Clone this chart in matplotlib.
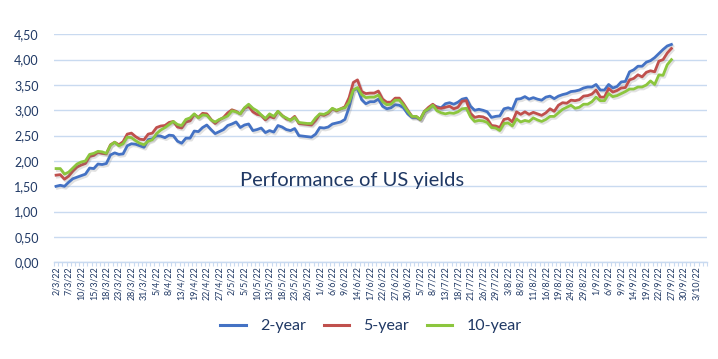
import matplotlib
matplotlib.use("Agg")
import matplotlib.pyplot as plt
import matplotlib.patheffects as pe
from matplotlib.ticker import FixedLocator, FuncFormatter

# ---------------- data ----------------
tick_labels = [
    "2/3/22", "7/3/22", "10/3/22", "15/3/22", "18/3/22", "23/3/22", "28/3/22", "31/3/22",
    "5/4/22", "8/4/22", "13/4/22", "19/4/22", "22/4/22", "27/4/22", "2/5/22", "5/5/22",
    "10/5/22", "13/5/22", "18/5/22", "23/5/22", "26/5/22", "1/6/22", "6/6/22", "9/6/22",
    "14/6/22", "17/6/22", "22/6/22", "27/6/22", "30/6/22", "5/7/22", "8/7/22", "13/7/22",
    "18/7/22", "21/7/22", "26/7/22", "29/7/22", "3/8/22", "8/8/22", "11/8/22", "16/8/22",
    "19/8/22", "24/8/22", "29/8/22", "1/9/22", "6/9/22", "9/9/22", "14/9/22", "19/9/22",
    "22/9/22", "27/9/22", "30/9/22", "3/10/22",
]
n_categories = 156          # rows on the category axis (incl. empty future rows)
label_every = 3

yield_2y = [
    1.50, 1.52, 1.50, 1.58, 1.65, 1.68, 1.71, 1.74, 1.86, 1.85, 1.94, 1.93, 1.95, 2.12, 2.16, 2.13,
    2.14, 2.30, 2.34, 2.33, 2.30, 2.27, 2.42, 2.44, 2.50, 2.49, 2.46, 2.51, 2.50, 2.39, 2.35, 2.45,
    2.45, 2.59, 2.58, 2.66, 2.71, 2.62, 2.54, 2.58, 2.62, 2.70, 2.73, 2.77, 2.66, 2.71, 2.73, 2.60,
    2.62, 2.65, 2.56, 2.60, 2.57, 2.70, 2.67, 2.62, 2.60, 2.64, 2.50, 2.49, 2.48, 2.47, 2.53, 2.66,
    2.65, 2.67, 2.73, 2.75, 2.77, 2.82, 3.06, 3.40, 3.43, 3.21, 3.13, 3.17, 3.17, 3.22, 3.08, 3.03,
    3.05, 3.11, 3.10, 3.05, 2.93, 2.86, 2.86, 2.82, 2.97, 3.02, 3.10, 3.07, 3.05, 3.13, 3.15, 3.12,
    3.16, 3.22, 3.24, 3.08, 3.00, 3.02, 3.00, 2.97, 2.86, 2.88, 2.89, 3.03, 3.05, 3.02, 3.22, 3.23,
    3.27, 3.22, 3.25, 3.22, 3.20, 3.26, 3.28, 3.23, 3.28, 3.31, 3.33, 3.37, 3.38, 3.40, 3.44, 3.46,
    3.46, 3.51, 3.40, 3.40, 3.51, 3.44, 3.47, 3.56, 3.57, 3.76, 3.80, 3.87, 3.87, 3.95, 3.98, 4.04,
    4.12, 4.20, 4.27, 4.30,
]
yield_5y = [
    1.72, 1.73, 1.64, 1.70, 1.80, 1.88, 1.92, 1.95, 2.09, 2.11, 2.17, 2.15, 2.14, 2.32, 2.37, 2.32,
    2.38, 2.53, 2.55, 2.48, 2.43, 2.42, 2.53, 2.55, 2.66, 2.69, 2.70, 2.76, 2.78, 2.67, 2.65, 2.77,
    2.79, 2.92, 2.86, 2.94, 2.93, 2.82, 2.74, 2.81, 2.86, 2.95, 3.01, 2.98, 2.93, 3.04, 3.08, 2.97,
    2.92, 2.90, 2.81, 2.88, 2.85, 2.98, 2.90, 2.83, 2.81, 2.88, 2.74, 2.73, 2.72, 2.71, 2.80, 2.92,
    2.90, 2.94, 3.03, 2.99, 3.03, 3.07, 3.25, 3.55, 3.60, 3.37, 3.33, 3.34, 3.34, 3.38, 3.22, 3.16,
    3.16, 3.24, 3.24, 3.13, 3.00, 2.88, 2.88, 2.82, 2.98, 3.06, 3.12, 3.05, 3.04, 3.06, 3.08, 3.03,
    3.06, 3.18, 3.19, 2.94, 2.86, 2.88, 2.87, 2.83, 2.70, 2.69, 2.66, 2.82, 2.84, 2.77, 2.97, 2.92,
    2.97, 2.92, 2.96, 2.93, 2.90, 2.95, 3.03, 2.98, 3.10, 3.15, 3.14, 3.20, 3.19, 3.21, 3.28, 3.29,
    3.32, 3.40, 3.26, 3.26, 3.43, 3.36, 3.39, 3.44, 3.45, 3.60, 3.63, 3.70, 3.66, 3.75, 3.78, 3.76,
    3.97, 4.00, 4.13, 4.22,
]
yield_10y = [
    1.85, 1.85, 1.74, 1.78, 1.86, 1.94, 1.98, 2.00, 2.13, 2.15, 2.19, 2.18, 2.15, 2.31, 2.37, 2.30,
    2.34, 2.47, 2.46, 2.40, 2.35, 2.32, 2.39, 2.42, 2.54, 2.61, 2.66, 2.72, 2.78, 2.72, 2.70, 2.82,
    2.85, 2.93, 2.85, 2.91, 2.90, 2.81, 2.77, 2.82, 2.85, 2.89, 2.99, 2.97, 2.93, 3.05, 3.12, 3.04,
    2.99, 2.91, 2.84, 2.93, 2.88, 2.98, 2.89, 2.85, 2.80, 2.86, 2.76, 2.75, 2.74, 2.74, 2.85, 2.93,
    2.92, 2.96, 3.04, 3.00, 3.03, 3.05, 3.16, 3.40, 3.45, 3.31, 3.25, 3.26, 3.26, 3.30, 3.17, 3.11,
    3.12, 3.20, 3.20, 3.10, 2.98, 2.88, 2.88, 2.82, 2.98, 3.03, 3.10, 2.99, 2.95, 2.93, 2.95, 2.94,
    2.97, 3.03, 3.04, 2.87, 2.78, 2.80, 2.79, 2.76, 2.66, 2.65, 2.60, 2.74, 2.75, 2.69, 2.83, 2.77,
    2.80, 2.78, 2.85, 2.81, 2.78, 2.82, 2.88, 2.88, 2.95, 3.02, 3.06, 3.10, 3.04, 3.06, 3.12, 3.12,
    3.17, 3.26, 3.19, 3.19, 3.33, 3.27, 3.29, 3.33, 3.37, 3.42, 3.42, 3.46, 3.46, 3.50, 3.58, 3.51,
    3.70, 3.69, 3.90, 4.00,
]
series_names = ["2-year", "5-year", "10-year"]
series_colors = ["#4472C4", "#C0504D", "#8CC63E"]

# ---------------- style ----------------
FONT = ["Lato", "DejaVu Sans"]
plt.rcParams["font.family"] = FONT
NAVY = "#1F3864"
GRID = "#C9DAF0"

fig = plt.figure(figsize=(7.18, 3.59), dpi=100)
ax = fig.add_axes([54 / 718, 1 - 262.3 / 359, 653 / 718, (262.3 - 34.3) / 359])

shadow = [pe.SimpleLineShadow(offset=(1.0, -1.3), shadow_color="#777777", alpha=0.22, linewidth=2.2),
          pe.Normal()]

for vals, name, col in zip([yield_2y, yield_5y, yield_10y], series_names, series_colors):
    xs = list(range(len(vals)))
    ax.plot(xs, vals, color=col, lw=2.0, label=name, path_effects=shadow,
            solid_joinstyle="round", zorder=3)

ax.set_xlim(-0.5, n_categories - 0.5)
ax.set_ylim(0, 4.5)
ax.set_yticks([i * 0.5 for i in range(10)])
ax.yaxis.set_major_formatter(FuncFormatter(lambda v, p: f"{v:.2f}".replace(".", ",")))
ax.grid(axis="y", color=GRID, lw=1.0, zorder=0)
ax.set_axisbelow(True)

tick_pos = [i * label_every for i in range(len(tick_labels))]
ax.set_xticks(tick_pos)
ax.set_xticklabels(tick_labels, rotation=90, fontsize=6.4, color=NAVY)
ax.xaxis.set_minor_locator(FixedLocator([i - 0.5 for i in range(n_categories + 1)]))
ax.tick_params(axis="x", which="major", length=0, pad=3)
ax.tick_params(axis="x", which="minor", length=3, color=GRID, width=0.8)
ax.tick_params(axis="y", length=0, labelsize=9, labelcolor=NAVY, pad=11)

for s in ["top", "right", "left"]:
    ax.spines[s].set_visible(False)
ax.spines["bottom"].set_color(GRID)
ax.spines["bottom"].set_linewidth(1.0)

ax.text((352 - 54) / 653, (262.3 - 186) / 51 / 4.5, "Performance of US yields",
        transform=ax.transAxes, ha="center", va="baseline", fontsize=14.5, color=NAVY)

leg = fig.legend(loc="center", bbox_to_anchor=(371 / 718, 1 - 326 / 359), ncol=3, frameon=False,
                 fontsize=11.5, handlelength=1.6, handletextpad=0.9, columnspacing=1.1)
for t in leg.get_texts():
    t.set_color(NAVY)
for h in leg.legend_handles:
    h.set_path_effects([])
    h.set_linewidth(2.2)

fig.savefig("out.png", dpi=100, facecolor="white")
